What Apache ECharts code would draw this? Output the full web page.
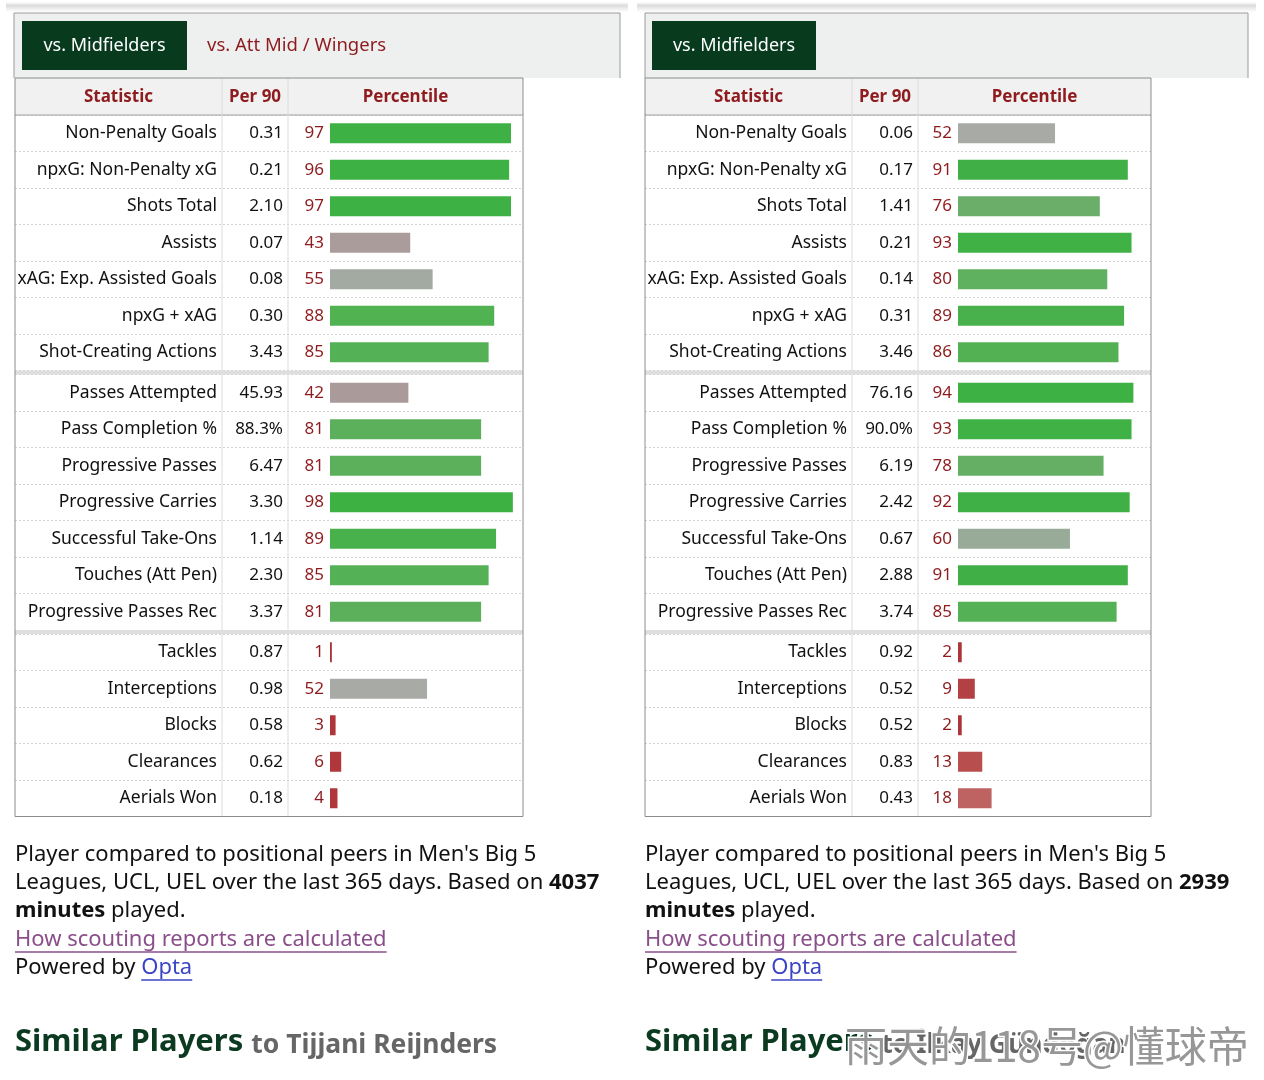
<!DOCTYPE html>
<html><head><meta charset="utf-8">
<script src="https://cdn.jsdelivr.net/npm/echarts@6/dist/echarts.min.js"></script>
<style>html,body{margin:0;padding:0;background:#fff}#c{width:1264px;height:1080px}</style>
</head><body><div id="c"></div>
<script>
// ---------- data ----------
const statNames = ['Non-Penalty Goals','npxG: Non-Penalty xG','Shots Total','Assists','xAG: Exp. Assisted Goals','npxG + xAG','Shot-Creating Actions',
  'Passes Attempted','Pass Completion %','Progressive Passes','Progressive Carries','Successful Take-Ons','Touches (Att Pen)','Progressive Passes Rec',
  'Tackles','Interceptions','Blocks','Clearances','Aerials Won'];
const groupSizes = [7, 7, 5];
const leftPer90 = ['0.31','0.21','2.10','0.07','0.08','0.30','3.43','45.93','88.3%','6.47','3.30','1.14','2.30','3.37','0.87','0.98','0.58','0.62','0.18'];
const leftPct = [97,96,97,43,55,88,85,42,81,81,98,89,85,81,1,52,3,6,4];
const rightPer90 = ['0.06','0.17','1.41','0.21','0.14','0.31','3.46','76.16','90.0%','6.19','2.42','0.67','2.88','3.74','0.92','0.52','0.52','0.83','0.43'];
const rightPct = [52,91,76,93,80,89,86,94,93,78,92,60,91,85,2,9,2,13,18];
const headers = ['Statistic','Per 90','Percentile'];
const leftTabs = ['vs. Midfielders','vs. Att Mid / Wingers'];
const rightTabs = ['vs. Midfielders'];
const leftMinutes = '4037';
const rightMinutes = '2939';
const leftPlayer = 'Tijjani Reijnders';
const rightPlayer = 'İlkay Gündoğan';
const watermark = '雨天的118号@懂球帝';

// ---------- layout ----------
const FONT = '"Noto Sans", Roboto, sans-serif';
const panels = [
  {tableL:15, tableR:523, col1:222, col2:288, barStart:330, boxL:14, boxR:620, tabL:22, tabR:187,
   per90:leftPer90, pct:leftPct, tabs:leftTabs, minutes:leftMinutes, player:leftPlayer, textL:15},
  {tableL:645, tableR:1151, col1:852, col2:918, barStart:958, boxL:645, boxR:1248, tabL:652, tabR:816,
   per90:rightPer90, pct:rightPct, tabs:rightTabs, minutes:rightMinutes, player:rightPlayer, textL:645}
];
const headerTop = 78, headerBot = 115, rowH = 36.5, sepH = 4, pxPerPct = 1.866;
const boxTop = 13, tabTop = 21, tabBot = 70;
const DARKRED = '#8e1b1e';

const stops = [[0,[172,52,56]],[6,[176,56,60]],[13,[184,78,78]],[18,[190,98,98]],[42,[170,154,154]],
  [52,[168,170,166]],[60,[152,170,152]],[76,[106,174,106]],[81,[92,176,92]],[88,[80,178,80]],[90,[64,176,70]],[100,[60,178,66]]];
function pctColor(p){
  for (let i=1;i<stops.length;i++){
    if (p<=stops[i][0]){
      const [a,ca]=stops[i-1],[b,cb]=stops[i];
      const t=(p-a)/(b-a||1);
      const c=ca.map((v,k)=>Math.round(v+(cb[k]-v)*t));
      return 'rgb('+c.join(',')+')';
    }
  }
  return 'rgb(60,178,66)';
}

const ctx = document.createElement('canvas').getContext('2d');
function textW(str, font){ ctx.font = font; return ctx.measureText(str).width; }

const grids=[], xAxes=[], yAxes=[], series=[], graphics=[];

const groupTops=[]; {let y=headerBot; groupSizes.forEach(n=>{groupTops.push(y); y+=n*rowH+sepH;});}
const tableBot = groupTops[2] + groupSizes[2]*rowH;

panels.forEach((P,pi)=>{
  graphics.push({type:'rect', z:0, shape:{x:P.boxL-8, y:2, width:P.boxR-P.boxL+16, height:10},
    style:{fill:new echarts.graphic.LinearGradient(0,0,0,1,[{offset:0,color:'#ffffff'},{offset:0.35,color:'#dcdcdc'},{offset:1,color:'#ffffff'}])}});
  graphics.push({type:'rect', z:1, shape:{x:P.boxL, y:boxTop, width:P.boxR-P.boxL, height:headerTop-boxTop}, style:{fill:'#eef0ef'}});
  graphics.push({type:'polyline', z:5, shape:{points:[[P.boxL,headerTop],[P.boxL,boxTop],[P.boxR,boxTop],[P.boxR,headerTop]]}, style:{stroke:'#9a9a9a', lineWidth:1, fill:null}});
  graphics.push({type:'rect', z:2, shape:{x:P.tabL, y:tabTop, width:P.tabR-P.tabL, height:tabBot-tabTop}, style:{fill:'#083b1e'}});
  graphics.push({type:'text', z:3, x:(P.tabL+P.tabR)/2, y:(tabTop+tabBot)/2,
    style:{text:P.tabs[0], fill:'#ffffff', font:'18px '+FONT, textAlign:'center', textVerticalAlign:'middle'}});
  if (P.tabs[1]) graphics.push({type:'text', z:3, x:P.tabR+20, y:(tabTop+tabBot)/2,
    style:{text:P.tabs[1], fill:DARKRED, font:'18.5px '+FONT, textAlign:'left', textVerticalAlign:'middle'}});
  graphics.push({type:'rect', z:1, shape:{x:P.tableL, y:headerTop, width:P.tableR-P.tableL, height:headerBot-headerTop}, style:{fill:'#f1f1f1'}});
  const hx=[(P.tableL+P.col1)/2,(P.col1+P.col2)/2,(P.col2+P.tableR)/2];
  headers.forEach((h,k)=>graphics.push({type:'text', z:3, x:hx[k], y:(headerTop+headerBot)/2+1,
    style:{text:h, fill:DARKRED, font:'bold 17px '+FONT, textAlign:'center', textVerticalAlign:'middle'}}));
  graphics.push({type:'line', z:20, shape:{x1:P.tableL, y1:headerBot, x2:P.tableR, y2:headerBot}, style:{stroke:'#a0a0a0', lineWidth:1}});
  [P.col1,P.col2].forEach(cx=>graphics.push({type:'line', z:20, shape:{x1:cx, y1:headerTop, x2:cx, y2:tableBot}, style:{stroke:'#dcdcdc', lineWidth:1}}));
  [1,2].forEach(g=>graphics.push({type:'rect', z:20, shape:{x:P.tableL, y:groupTops[g]-sepH, width:P.tableR-P.tableL, height:sepH}, style:{fill:'#dedede'}}));
  graphics.push({type:'rect', z:21, shape:{x:P.tableL, y:headerTop, width:P.tableR-P.tableL, height:tableBot-headerTop}, style:{fill:null, stroke:'#8c8c8c', lineWidth:1}});

  let start=0;
  groupSizes.forEach((n,g)=>{
    const gi = grids.length;
    grids.push({left:P.tableL, top:groupTops[g], width:P.tableR-P.tableL, height:n*rowH, containLabel:false});
    xAxes.push({type:'value', gridIndex:gi, show:false,
      min:-(P.barStart-P.tableL)/pxPerPct, max:(P.tableR-P.barStart)/pxPerPct, splitLine:{show:false}});
    const names = statNames.slice(start,start+n);
    const vals = P.per90.slice(start,start+n);
    const pcts = P.pct.slice(start,start+n);
    yAxes.push({type:'category', gridIndex:gi, data:names, inverse:true, position:'left', offset:-(P.col1-5-P.tableL),
      axisLine:{show:false,onZero:false}, axisTick:{show:false},
      axisLabel:{interval:0, margin:0, color:'#111', fontSize:17.5, fontFamily:FONT},
      splitLine:{show:true, interval:0, lineStyle:{color:'#d4d4d4', type:[2,2], width:1}}});
    yAxes.push({type:'category', gridIndex:gi, data:vals, inverse:true, position:'left', offset:-(P.col2-5-P.tableL),
      axisLine:{show:false,onZero:false}, axisTick:{show:false}, splitLine:{show:false},
      axisLabel:{interval:0, margin:0, color:'#111', fontSize:17, fontFamily:FONT}});
    series.push({type:'bar', xAxisIndex:gi, yAxisIndex:2*gi, data:pcts, barWidth:20, silent:true, z:5,
      itemStyle:{color:p=>pctColor(p.value)},
      label:{show:true, position:'left', distance:6, color:DARKRED, fontSize:17, fontFamily:FONT}});
    start+=n;
  });

  const tx=P.textL, f='22px '+FONT;
  graphics.push({type:'text', z:3, x:tx, y:855, style:{text:"Player compared to positional peers in Men's Big 5", font:f, fill:'#111', textVerticalAlign:'middle'}});
  graphics.push({type:'text', z:3, x:tx, y:883, style:{text:'Leagues, UCL, UEL over the last 365 days. Based on {b|'+P.minutes+'}', font:f, fill:'#111', textVerticalAlign:'middle',
    rich:{b:{font:'bold 22px '+FONT, fill:'#111'}}}});
  graphics.push({type:'text', z:3, x:tx, y:911, style:{text:'{b|minutes} played.', font:f, fill:'#111', textVerticalAlign:'middle',
    rich:{b:{font:'bold 22px '+FONT, fill:'#111'}}}});
  const link='How scouting reports are calculated';
  graphics.push({type:'text', z:3, x:tx, y:940, style:{text:link, font:f, fill:'#8a4f8a', textVerticalAlign:'middle'}});
  graphics.push({type:'line', z:3, shape:{x1:tx, y1:952, x2:tx+textW(link,f), y2:952}, style:{stroke:'#8a4f8a', lineWidth:1.5}});
  graphics.push({type:'text', z:3, x:tx, y:968, style:{text:'Powered by ', font:f, fill:'#111', textVerticalAlign:'middle'}});
  const pw=textW('Powered by ',f);
  graphics.push({type:'text', z:3, x:tx+pw, y:968, style:{text:'Opta', font:f, fill:'#3a44c4', textVerticalAlign:'middle'}});
  graphics.push({type:'line', z:3, shape:{x1:tx+pw, y1:980, x2:tx+pw+textW('Opta',f), y2:980}, style:{stroke:'#3a44c4', lineWidth:1.5}});
  const hf='bold 31px '+FONT;
  graphics.push({type:'text', z:3, x:tx, y:1042, style:{text:'Similar Players', font:hf, fill:'#0b3a20', textVerticalAlign:'middle'}});
  graphics.push({type:'text', z:3, x:tx+textW('Similar Players ',hf), y:1045, style:{text:'to '+P.player, font:'bold 26.5px '+FONT, fill:'#666666', textVerticalAlign:'middle'}});
});

graphics.push({type:'text', z:50, x:845, y:1046, style:{text:watermark, font:'42px "Noto Sans CJK SC", sans-serif',
  fill:'rgba(140,140,140,0.9)', stroke:'#ffffff', lineWidth:3, textVerticalAlign:'middle'}});

const chart = echarts.init(document.getElementById('c'), null, {renderer:'canvas'});
chart.setOption({
  backgroundColor:'#ffffff',
  animation:false,
  grid:grids, xAxis:xAxes, yAxis:yAxes, series:series,
  graphic:{elements:graphics}
});
</script></body></html>
